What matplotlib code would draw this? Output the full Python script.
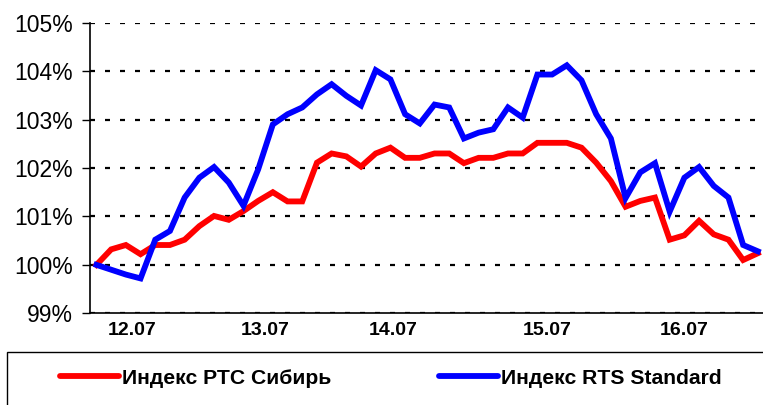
import matplotlib
matplotlib.use('Agg')
import matplotlib.pyplot as plt
from matplotlib.patches import Rectangle
from matplotlib.ticker import FuncFormatter

# index values, % of start level (one point per trading interval)
rts_siberia = [100.0, 100.32, 100.41, 100.22, 100.41, 100.41, 100.52, 100.80, 101.01, 100.93,
               101.11, 101.32, 101.50, 101.31, 101.31, 102.11, 102.30, 102.24, 102.03, 102.30,
               102.42, 102.21, 102.21, 102.30, 102.30, 102.10, 102.21, 102.21, 102.30, 102.30,
               102.52, 102.52, 102.52, 102.42, 102.11, 101.73, 101.20, 101.32, 101.39, 100.52,
               100.61, 100.91, 100.63, 100.52, 100.10, 100.24]
rts_standard = [100.0, 99.90, 99.80, 99.72, 100.52, 100.70, 101.39, 101.80, 102.02, 101.70,
                101.22, 101.97, 102.90, 103.11, 103.25, 103.52, 103.73, 103.49, 103.29, 104.02,
                103.83, 103.11, 102.92, 103.31, 103.25, 102.61, 102.73, 102.80, 103.25, 103.04,
                103.93, 103.93, 104.12, 103.81, 103.11, 102.61, 101.38, 101.91, 102.10, 101.10,
                101.80, 102.02, 101.63, 101.39, 100.41, 100.28]
day_labels = ['12.07', '13.07', '14.07', '15.07', '16.07']
day_positions = [2.4, 11.5, 20.2, 30.7, 40.0]
series_names = ['Индекс РТС Сибирь', 'Индекс RTS Standard']

plt.rcParams['font.family'] = ['Liberation Sans', 'DejaVu Sans']
plt.rcParams['lines.scale_dashes'] = False

fig = plt.figure(figsize=(7.63, 4.05), dpi=100)
ax = fig.add_axes([90 / 763, 1 - 313.3 / 405, 1 - 90 / 763, (313.3 - 22.7) / 405])

x = list(range(len(rts_siberia)))
ax.plot(x, rts_siberia, color='#ff0000', lw=4.2, solid_joinstyle='miter', label=series_names[0])
ax.plot(x, rts_standard, color='#0000ff', lw=4.2, solid_joinstyle='miter', label=series_names[1])

ax.set_ylim(99, 105)
ax.set_xlim(-0.44, 45.35)
ax.set_yticks(range(99, 106))
ax.yaxis.set_major_formatter(FuncFormatter(lambda v, p: f'{v:.0f}%'))
ax.yaxis.grid(True, color='black', lw=1.6, linestyle=(0, (3.6, 7.2)))
ax.set_axisbelow(True)

ax.set_xticks(day_positions)
ax.set_xticklabels(day_labels, fontsize=14, fontweight='bold')
ax.tick_params(axis='x', length=0, pad=6)
ax.tick_params(axis='y', length=5.5, width=1, direction='out', labelsize=16.5, pad=7)

for s in ['top', 'right']:
    ax.spines[s].set_visible(False)
for s in ['left', 'bottom']:
    ax.spines[s].set_linewidth(1.2)

# legend box runs off the right and bottom edge
fig.patches.append(Rectangle((7 / 763, -0.05), 1.0, 1 - 351.7 / 405 + 0.05,
                             transform=fig.transFigure, fill=False, ec='black', lw=1,
                             clip_on=False))
leg = fig.legend(loc='center left', bbox_to_anchor=(60 / 763, 1 - 378 / 405), ncol=2,
                 frameon=False, prop={'size': 15.2, 'weight': 'bold'}, handlelength=2.8,
                 handletextpad=0.15, columnspacing=5.1, borderpad=0, borderaxespad=0)
for h in leg.get_lines():
    h.set_solid_capstyle('round')

fig.savefig('out.png', dpi=100)
